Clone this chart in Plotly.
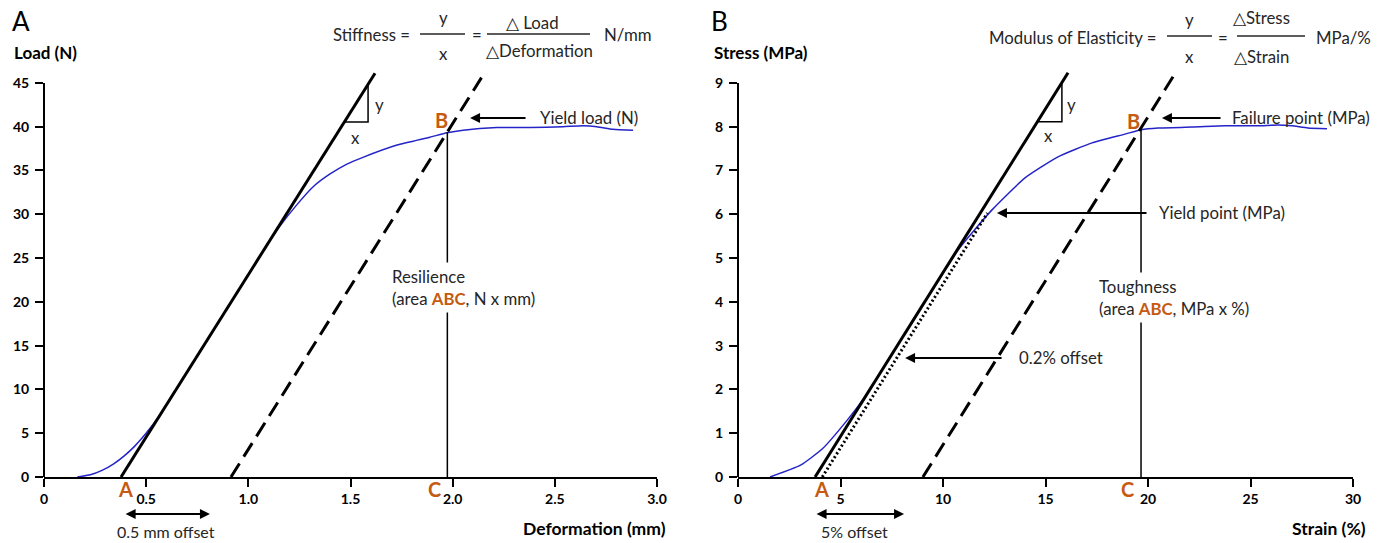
import plotly.graph_objects as go

W, H = 1384, 543
FONT = "Lato"
TXT = "#262626"
ORANGE = "#C55A11"
BLUE = "#2424C8"

# ---------------- Panel A data : Deformation (mm) vs Load (N) ----------------
a_curve_x = [0.163, 0.227, 0.284, 0.341, 0.397, 0.443, 0.482, 0.517, 0.549, 0.579, 0.607,
             0.80, 1.00, 1.072, 1.15, 1.238, 1.32, 1.400, 1.48, 1.561, 1.728, 1.889, 1.972,
             2.051, 2.217, 2.379, 2.540, 2.638, 2.706, 2.785, 2.883]
a_curve_y = [0.0, 0.25, 0.75, 1.5, 2.5, 3.5, 4.5, 5.5, 6.5, 7.5, 8.5,
             15.7, 23.1, 25.8, 28.5, 31.1, 33.2, 34.6, 35.7, 36.5, 37.9, 38.8, 39.3,
             39.6, 39.9, 39.9, 40.0, 40.1, 40.0, 39.7, 39.6]
a_stiff_x = [0.377, 1.620]
a_stiff_y = [0.0, 46.1]
a_offset_x = [0.915, 2.141]
a_offset_y = [0.0, 45.6]
a_yield_x = [1.974, 1.974]
a_yield_y = [0.0, 39.4]
a_tri_x = [1.470, 1.586, 1.586]
a_tri_y = [40.54, 40.54, 44.85]
a_xticks = [0, 0.5, 1.0, 1.5, 2.0, 2.5, 3.0]
a_xtick_text = ["0", "0.5", "1.0", "1.5", "2.0", "2.5", "3.0"]
a_yticks = [0, 5, 10, 15, 20, 25, 30, 35, 40, 45]
a_offset_arrow = [0.392, 0.812]

# ---------------- Panel B data : Strain (%) vs Stress (MPa) ----------------
b_curve_x = [1.56, 3.05, 4.13, 5.21, 6.08, 8.0, 10.73, 12.39, 14.00, 15.61,
             17.27, 18.88, 19.66, 20.49, 22.15, 23.76, 25.37, 26.34, 27.02,
             27.80, 28.73]
b_curve_y = [0.0, 0.27, 0.65, 1.23, 1.76, 3.17, 5.18, 6.10, 6.83, 7.31,
             7.63, 7.83, 7.93, 7.97, 7.99, 8.02, 8.02, 8.04, 8.02,
             7.97, 7.95]
b_mod_x = [3.76, 16.10]
b_mod_y = [0.0, 9.23]
b_02_x = [4.11, 12.17]
b_02_y = [0.0, 6.03]
b_offset_x = [9.02, 21.22]
b_offset_y = [0.0, 9.14]
b_fail_x = [19.66, 19.66]
b_fail_y = [0.0, 7.95]
b_tri_x = [14.60, 15.80, 15.80]
b_tri_y = [8.11, 8.11, 9.0]
b_xticks = [0, 5, 10, 15, 20, 25, 30]
b_yticks = [0, 1, 2, 3, 4, 5, 6, 7, 8, 9]
b_offset_arrow = [3.76, 8.10]


def px(x):
    return x / W


def py(y):
    return (H - y) / H


fig = go.Figure()

# Panel A traces
fig.add_trace(go.Scatter(x=a_curve_x, y=a_curve_y, mode="lines",
                         line=dict(color=BLUE, width=1.5, shape="spline", smoothing=0.5),
                         xaxis="x", yaxis="y", hoverinfo="skip"))
fig.add_trace(go.Scatter(x=a_stiff_x, y=a_stiff_y, mode="lines",
                         line=dict(color="black", width=3), xaxis="x", yaxis="y"))
fig.add_trace(go.Scatter(x=a_offset_x, y=a_offset_y, mode="lines",
                         line=dict(color="black", width=3, dash="16px,8px"), xaxis="x", yaxis="y"))
fig.add_trace(go.Scatter(x=a_yield_x, y=a_yield_y, mode="lines",
                         line=dict(color="black", width=1.5), xaxis="x", yaxis="y"))
fig.add_trace(go.Scatter(x=a_tri_x, y=a_tri_y, mode="lines",
                         line=dict(color="black", width=1.5), xaxis="x", yaxis="y"))

# Panel B traces
fig.add_trace(go.Scatter(x=b_curve_x, y=b_curve_y, mode="lines",
                         line=dict(color=BLUE, width=1.5, shape="spline", smoothing=0.5),
                         xaxis="x2", yaxis="y2"))
fig.add_trace(go.Scatter(x=b_mod_x, y=b_mod_y, mode="lines",
                         line=dict(color="black", width=3), xaxis="x2", yaxis="y2"))
fig.add_trace(go.Scatter(x=b_02_x, y=b_02_y, mode="lines",
                         line=dict(color="black", width=3, dash="2px,2.5px"), xaxis="x2", yaxis="y2"))
fig.add_trace(go.Scatter(x=b_offset_x, y=b_offset_y, mode="lines",
                         line=dict(color="black", width=3, dash="16px,8px"), xaxis="x2", yaxis="y2"))
fig.add_trace(go.Scatter(x=b_fail_x, y=b_fail_y, mode="lines",
                         line=dict(color="black", width=1.5), xaxis="x2", yaxis="y2"))
fig.add_trace(go.Scatter(x=b_tri_x, y=b_tri_y, mode="lines",
                         line=dict(color="black", width=1.5), xaxis="x2", yaxis="y2"))

tickfont = dict(family=FONT, size=14, color="black", weight="bold")
ydom = [py(477), py(61)]
a_yrange = [0, 47.5]
b_yrange = [0, 9.5]

common_x = dict(showgrid=False, zeroline=False, showline=True, linewidth=2, linecolor="black",
                ticks="outside", ticklen=8, tickwidth=2, tickcolor="black", tickfont=tickfont,
                automargin=False)
common_y = dict(showgrid=False, zeroline=False, showline=False,
                ticks="outside", ticklen=8, tickwidth=2, tickcolor="black", tickfont=tickfont,
                ticklabelstandoff=3, automargin=False)

fig.update_layout(
    width=W, height=H, margin=dict(l=0, r=0, t=0, b=0, autoexpand=False),
    paper_bgcolor="white", plot_bgcolor="white", showlegend=False,
    xaxis=dict(domain=[px(44), px(657)], range=[0, 3.0], tickvals=a_xticks,
               ticktext=a_xtick_text, anchor="y", **common_x),
    yaxis=dict(domain=ydom, range=a_yrange, tickvals=a_yticks, anchor="x", **common_y),
    xaxis2=dict(domain=[px(738), px(1353)], range=[0, 30], tickvals=b_xticks, anchor="y2", **common_x),
    yaxis2=dict(domain=ydom, range=b_yrange, tickvals=b_yticks, anchor="x2", **common_y),
)


# y-axis lines stopping at the top tick
def yline(xp, top, rng):
    y1 = ydom[0] + (top - rng[0]) / (rng[1] - rng[0]) * (ydom[1] - ydom[0])
    return dict(type="line", xref="paper", yref="paper", x0=xp, x1=xp, y0=ydom[0], y1=y1,
                line=dict(color="black", width=2))


shapes = [yline(px(44), 45, a_yrange), yline(px(738), 9, b_yrange)]
# fraction bars
for x0, x1, yy in [(420, 465, 34), (487, 590, 34), (1167, 1212, 36), (1237, 1305, 36)]:
    shapes.append(dict(type="line", xref="paper", yref="paper", x0=px(x0), x1=px(x1),
                       y0=py(yy), y1=py(yy), line=dict(color=TXT, width=1.3)))
fig.update_layout(shapes=shapes)

anns = []
TS = 16.8  # body text size


def txt(text, x, y, xref="paper", yref="paper", size=TS, color=TXT, bold=False,
        xanchor="center", yanchor="middle", bg=None, align="left"):
    d = dict(text=text, x=x, y=y, xref=xref, yref=yref, showarrow=False,
             xanchor=xanchor, yanchor=yanchor, align=align,
             font=dict(family=FONT, size=size, color=color, weight="bold" if bold else "normal"))
    if bg:
        d.update(bgcolor=bg, borderpad=3)
    anns.append(d)


def arrow(x, y, ax, ay, xref, yref):
    anns.append(dict(text="", x=x, y=y, ax=ax, ay=ay, xref=xref, yref=yref,
                     axref=xref, ayref=yref, showarrow=True, arrowhead=2, arrowsize=1,
                     arrowwidth=2, arrowcolor="black", standoff=0))


def harrow_below(x0, x1, yp, xref):
    anns.append(dict(text="", x=x1, y=yp, ax=x0, ay=0, xref=xref, yref="paper",
                     axref=xref, ayref="pixel", showarrow=True, arrowhead=2, arrowsize=1,
                     arrowwidth=2, arrowcolor="black", standoff=0, startstandoff=0,
                     startarrowhead=2, startarrowsize=1, arrowside="end+start"))


# Panel letters and axis titles
txt("A", px(10), py(21), size=26, color="black", xanchor="left")
txt("B", px(709), py(21), size=26, color="black", xanchor="left")
txt("Load (N)", px(12), py(53), size=17, color="black", bold=True, xanchor="left")
txt("Stress (MPa)", px(712), py(53), size=17, color="black", bold=True, xanchor="left")
txt("Deformation (mm)", px(668), py(528), size=17.5, color="black", bold=True, xanchor="right")
txt("Strain (%)", px(1368), py(528), size=17.5, color="black", bold=True, xanchor="right")

# Formula A
txt("Stiffness =", px(412), py(35), xanchor="right")
txt("y", px(443), py(17))
txt("x", px(443), py(54))
txt("=", px(477), py(35))
txt("\u25b3 Load", px(532), py(22))
txt("\u25b3Deformation", px(539), py(51))
txt("N/mm", px(628), py(35))
# Formula B
txt("Modulus of Elasticity =", px(1159), py(37), xanchor="right")
txt("y", px(1189), py(19))
txt("x", px(1189), py(57))
txt("=", px(1223), py(37))
txt("\u25b3Stress", px(1261), py(17))
txt("\u25b3Strain", px(1261), py(57))
txt("MPa/%", px(1343), py(37))

# Panel A annotations
txt("y", 1.644, 42.5, "x", "y")
txt("x", 1.522, 38.8, "x", "y")
txt("B", 1.943, 40.8, "x", "y", size=20, color=ORANGE, bold=True)
txt("Yield load (N)", 2.418, 41.0, "x", "y", xanchor="left")
arrow(2.085, 41.0, 2.364, 41.0, "x", "y")
txt("Resilience<br>(area <span style='color:%s'><b>ABC</b></span>, N x mm)" % ORANGE,
    1.684, 21.64, "x", "y", xanchor="left", bg="white")
txt("A", 0.40, py(489), "x", "paper", size=20, color=ORANGE, bold=True)
txt("C", 1.91, py(489), "x", "paper", size=20, color=ORANGE, bold=True)
harrow_below(a_offset_arrow[0], a_offset_arrow[1], py(514), "x")
txt("0.5 mm offset", 0.597, py(531), "x", "paper", size=16)

# Panel B annotations
txt("y", 16.29, 8.50, "x2", "y2")
txt("x", 15.17, 7.79, "x2", "y2")
txt("B", 19.27, 8.13, "x2", "y2", size=20, color=ORANGE, bold=True)
txt("Failure point (MPa)", 24.0, 8.20, "x2", "y2", xanchor="left")
arrow(20.68, 8.20, 23.61, 8.20, "x2", "y2")
txt("Yield point (MPa)", 20.44, 6.03, "x2", "y2", xanchor="left")
arrow(12.63, 6.03, 20.0, 6.03, "x2", "y2")
txt("0.2% offset", 13.61, 2.72, "x2", "y2", xanchor="left")
arrow(8.15, 2.72, 12.93, 2.72, "x2", "y2")
txt("Toughness<br>(area <span style='color:%s'><b>ABC</b></span>, MPa x %%)" % ORANGE,
    17.41, 4.10, "x2", "y2", xanchor="left", bg="white")
txt("A", 4.05, py(489), "x2", "paper", size=20, color=ORANGE, bold=True)
txt("C", 19.0, py(489), "x2", "paper", size=20, color=ORANGE, bold=True)
harrow_below(b_offset_arrow[0], b_offset_arrow[1], py(514), "x2")
txt("5% offset", 5.66, py(531), "x2", "paper", size=16)

fig.update_layout(annotations=anns)
fig.write_html(
    "out.html",
    config={"displayModeBar": False},
    post_script="document.body.style.margin='0px';document.body.style.padding='0px';"
                "document.body.style.overflow='hidden';",
)
